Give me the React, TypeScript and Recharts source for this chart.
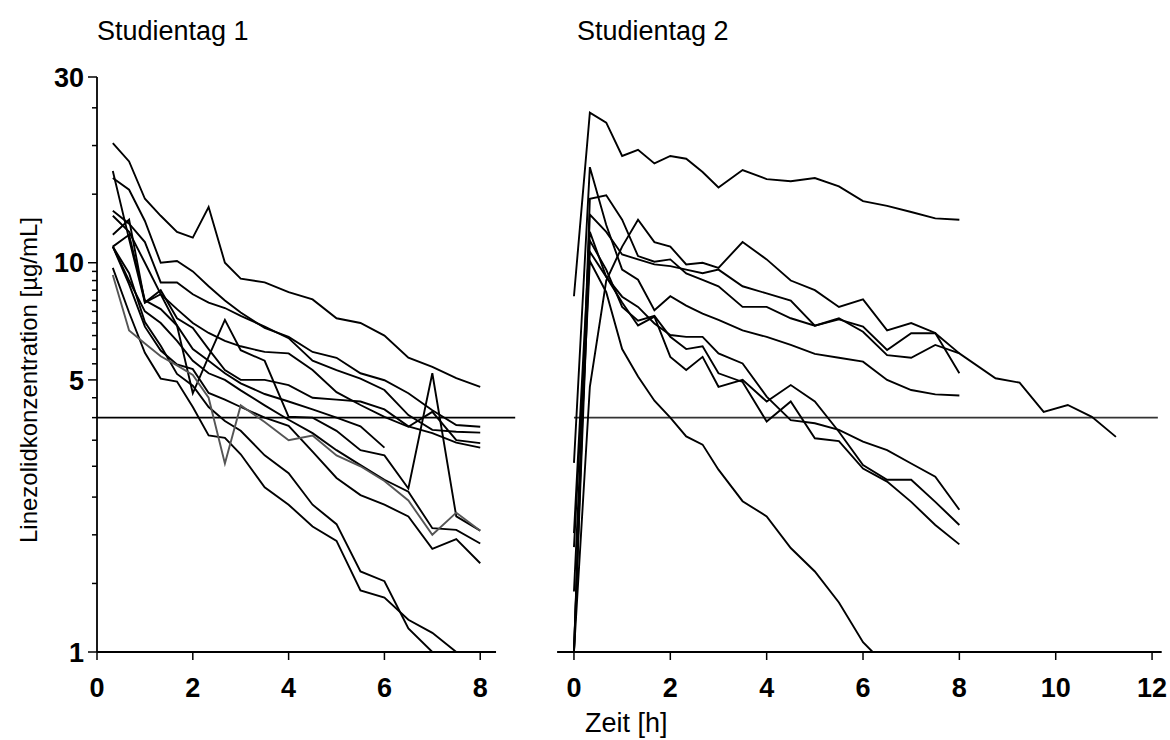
import React from "react";
import { LineChart, Line, XAxis, YAxis, ReferenceLine } from "recharts";

// ---------- Studientag 1 ----------
const timesDay1 = [0.33, 0.67, 1, 1.33, 1.67, 2, 2.33, 2.67, 3, 3.5, 4, 4.5, 5, 5.5, 6, 6.5, 7, 7.5, 8];
const day1A = [20.3, 18.2, 14.6, 13.2, 12.0, 11.6, 13.9, 10.0, 9.1, 8.9, 8.4, 8.05, 7.2, 7.0, 6.5, 5.7, 5.4, 5.05, 4.8];
const day1B = [16.5, 15.4, 12.8, 10.0, 10.1, 9.5, 8.7, 8.0, 7.45, 6.8, 6.45, 5.9, 5.7, 5.2, 4.99, 4.62, 4.18, 3.83, 3.79];
const day1C = [17.2, 11.5, 7.9, 8.5, 7.2, 6.8, 6.0, 5.3, 5.0, 5.0, 4.85, 4.5, 4.45, 4.4, 4.2, 3.8, 3.65, 3.45, 3.35];
const day1D = [13.6, 12.6, 11.3, 8.9, 8.9, 8.3, 7.9, 7.65, 7.3, 6.85, 6.4, 5.6, 5.3, 5.04, 4.71, 4.06, 3.72, 3.68, 3.66];
const day1E = [13.2, 12.0, 10.0, 8.3, 7.6, 7.0, 6.6, 6.3, 6.1, 5.9, 5.85, 5.3, 4.65, 4.31, 4.02, 3.79, 4.14, 3.5, 3.44];
const day1F = [11.8, 12.9, 7.9, 8.3, 6.9, 4.62, 5.74, 7.13, 5.96, 5.6, 4.02, 4.0, 3.7, 3.3, 3.2, 2.63, 5.2, 2.23, 2.05];
const day1H = [11.0, 11.8, 8.0, 7.6, 6.9, 6.0, 5.6, 5.2, 4.9, 4.6, 4.4, 4.2, 4.0, 3.8, 3.35];
const day1Gray = [9.3, 6.7, 6.2, 5.75, 5.45, 5.15, 4.5, 3.05, 4.3, 3.9, 3.5, 3.6, 3.2, 3.0, 2.75, 2.45, 2.0, 2.28, 2.05];
const day1J = [11.0, 9.0, 7.5, 7.0, 6.3, 5.6, 5.2, 5.0, 4.7, 4.3, 3.95, 3.65, 3.3, 3.02, 2.77, 2.58, 2.08, 2.06, 1.9];
const day1K = [11.0, 8.8, 6.85, 5.95, 5.48, 5.33, 4.63, 4.45, 4.26, 4.0, 3.81, 3.27, 2.8, 2.53, 2.39, 2.23, 1.84, 1.95, 1.69];
const day1N = [11.0, 9.4, 7.04, 6.12, 5.18, 4.83, 4.26, 3.92, 3.7, 3.2, 2.88, 2.39, 2.13, 1.61, 1.52, 1.15, 1.0];
const day1M = [9.7, 7.45, 5.87, 5.04, 4.95, 4.26, 3.6, 3.55, 3.22, 2.65, 2.39, 2.1, 1.93, 1.44, 1.38, 1.21, 1.12, 1.0];

// ---------- Studientag 2 ----------
const timesDay2 = [0, 0.33, 0.67, 1, 1.33, 1.67, 2, 2.33, 2.67, 3, 3.5, 4, 4.5, 5, 5.5, 6, 6.5, 7, 7.5, 8];
const timesDay2Long = [...timesDay2, 8.75, 9.25, 9.75, 10.25, 10.75, 11.25];
const timesDay2Fast = [0, 0.33, 0.67, 1, 1.33, 1.67, 2, 2.33, 2.67, 3, 3.5, 4, 4.5, 5, 5.5, 6, 6.2];
const day2R1 = [8.2, 24.3, 22.9, 18.8, 19.5, 18.0, 18.8, 18.5, 17.1, 15.6, 17.3, 16.4, 16.2, 16.5, 15.7, 14.4, 14.0, 13.5, 13.0, 12.9];
const day2R2 = [3.06, 17.6, 12.5, 9.6, 9.04, 7.55, 8.2, 7.76, 7.4, 7.13, 6.7, 6.45, 6.15, 5.83, 5.7, 5.57, 5.0, 4.71, 4.59, 4.56];
const day2R3 = [1.0, 14.6, 14.9, 12.9, 10.4, 10.06, 10.2, 9.39, 9.03, 8.7, 7.7, 7.7, 7.2, 6.89, 7.2, 6.65, 5.79, 5.7, 6.15, 5.85, 5.05, 4.92, 4.14, 4.31, 4.02, 3.57];
const day2R4 = [1.0, 4.8, 9.0, 11.0, 12.9, 11.3, 11.0, 9.9, 10.0, 9.7, 11.3, 10.2, 9.0, 8.5, 7.7, 8.05, 6.7, 7.0, 6.6, 5.2];
const day2R5 = [1.0, 13.3, 12.0, 10.5, 10.2, 9.9, 9.8, 9.6, 9.4, 9.6, 8.7, 8.34, 7.99, 6.89, 7.15, 6.85, 5.97, 6.59, 6.59, 5.85];
const day2LA = [1.0, 11.4, 9.6, 7.7, 7.1, 7.3, 6.45, 6.0, 6.1, 5.2, 4.94, 3.91, 4.4, 3.54, 3.48, 2.96, 2.74, 2.43, 2.12, 1.89];
const day2LB = [2.02, 12.0, 9.2, 7.9, 6.9, 7.27, 5.73, 5.3, 5.73, 4.8, 5.0, 4.4, 4.85, 4.4, 3.68, 3.02, 2.77, 2.77, 2.43, 2.12];
const day2LC = [1.86, 10.67, 9.2, 8.18, 7.7, 6.98, 6.52, 6.45, 6.45, 5.85, 5.51, 4.53, 3.94, 3.87, 3.72, 3.47, 3.3, 3.05, 2.82, 2.32];
const day2Fast = [1.43, 10.1, 8.4, 6.0, 5.1, 4.42, 4.0, 3.58, 3.41, 2.94, 2.44, 2.23, 1.85, 1.61, 1.34, 1.06, 1.0];

// ---------- axes ----------
const yTicks = [1, 1.5, 2, 2.5, 3, 3.5, 4, 4.5, 5, 5.5, 6, 6.5, 7, 7.5, 8, 8.5, 9, 9.5, 10, 15, 20, 25, 30];
const yLabelTicks = [1, 5, 10, 30];
const xTicksDay1 = [0, 2, 4, 6, 8];
const xTicksDay2 = [0, 2, 4, 6, 8, 10, 12];
const threshold = 4;

const FONT = "'Liberation Sans', Arial, sans-serif";

type Series = { times: number[]; values: number[]; color?: string };

const day1Series: Series[] = [
  { times: timesDay1, values: day1A },
  { times: timesDay1, values: day1B },
  { times: timesDay1, values: day1C },
  { times: timesDay1, values: day1D },
  { times: timesDay1, values: day1E },
  { times: timesDay1, values: day1F },
  { times: timesDay1, values: day1H },
  { times: timesDay1, values: day1J },
  { times: timesDay1, values: day1K },
  { times: timesDay1, values: day1N },
  { times: timesDay1, values: day1M },
  { times: timesDay1, values: day1Gray, color: "#555555" },
];

const day2Series: Series[] = [
  { times: timesDay2, values: day2R1 },
  { times: timesDay2, values: day2R2 },
  { times: timesDay2Long, values: day2R3 },
  { times: timesDay2, values: day2R4 },
  { times: timesDay2, values: day2R5 },
  { times: timesDay2, values: day2LA },
  { times: timesDay2, values: day2LB },
  { times: timesDay2, values: day2LC },
  { times: timesDay2Fast, values: day2Fast },
];

const toData = (s: Series) => s.values.map((v, i) => ({ t: s.times[i], c: v }));

const YTick = (props: any) => {
  const { x, y, payload } = props;
  const v = payload.value;
  const major = yLabelTicks.includes(v);
  const len = major ? 9 : 5;
  return (
    <g>
      <line x1={x - len} x2={x} y1={y} y2={y} stroke="#000" strokeWidth={1.5} />
      {major && (
        <text x={x - 13} y={y} dy="0.36em" textAnchor="end" fontSize={27} fontWeight="bold" fontFamily={FONT} fill="#000">
          {v}
        </text>
      )}
    </g>
  );
};

const XTick = (props: any) => {
  const { x, y, payload } = props;
  return (
    <g>
      <line x1={x} x2={x} y1={y} y2={y + 8} stroke="#000" strokeWidth={1.5} />
      <text x={x} y={y + 45} textAnchor="middle" fontSize={27} fontWeight="bold" fontFamily={FONT} fill="#000">
        {payload.value}
      </text>
    </g>
  );
};

const renderLines = (series: Series[], prefix: string) =>
  series.map((s, i) => (
    <Line
      key={prefix + i}
      data={toData(s)}
      dataKey="c"
      type="linear"
      stroke={s.color || "#000"}
      strokeWidth={1.9}
      dot={false}
      activeDot={false}
      isAnimationActive={false}
    />
  ));

export default function App() {
  return (
    <div style={{ position: "absolute", left: 0, top: 0, width: 1170, height: 740, background: "#fff", fontFamily: FONT }}>
      <div style={{ position: "absolute", left: 0, top: 0 }}>
        <LineChart width={560} height={740} margin={{ top: 77, right: 44.8, bottom: 58, left: 37 }}>
          <XAxis
            type="number"
            dataKey="t"
            domain={[0, 8.73]}
            ticks={xTicksDay1}
            allowDataOverflow
            axisLine={false}
            tickLine={false}
            tickSize={0}
            tickMargin={0}
            height={30}
            tick={<XTick />}
            interval={0}
          />
          <YAxis
            type="number"
            scale="log"
            domain={[1, 30]}
            ticks={yTicks}
            allowDataOverflow
            width={60}
            axisLine={{ stroke: "#000", strokeWidth: 1.8 }}
            tickLine={false}
            tickSize={0}
            tickMargin={0}
            tick={<YTick />}
            interval={0}
          />
          <ReferenceLine segment={[{ x: 0, y: 1 }, { x: 8.33, y: 1 }]} stroke="#000" strokeWidth={1.8} ifOverflow="visible" />
          <ReferenceLine y={threshold} stroke="#000" strokeWidth={1.6} ifOverflow="visible" />
          {renderLines(day1Series, "d1-")}
        </LineChart>
      </div>
      <div style={{ position: "absolute", left: 540, top: 0 }}>
        <LineChart width={630} height={740} margin={{ top: 77, right: 8.3, bottom: 58, left: 17.1 }}>
          <XAxis
            type="number"
            dataKey="t"
            domain={[-0.35, 12.2]}
            ticks={xTicksDay2}
            allowDataOverflow
            axisLine={{ stroke: "#000", strokeWidth: 1.8 }}
            tickLine={false}
            tickSize={0}
            tickMargin={0}
            height={30}
            tick={<XTick />}
            interval={0}
          />
          <YAxis type="number" scale="log" domain={[1, 30]} allowDataOverflow hide />
          <ReferenceLine segment={[{ x: 0, y: threshold }, { x: 12.12, y: threshold }]} stroke="#333" strokeWidth={1.6} ifOverflow="visible" />
          {renderLines(day2Series, "d2-")}
        </LineChart>
      </div>
      <svg width={1170} height={740} style={{ position: "absolute", left: 0, top: 0, pointerEvents: "none" }}>
        <text x={97} y={40} fontSize={27} fontFamily={FONT} fill="#000">Studientag 1</text>
        <text x={577} y={40} fontSize={27} fontFamily={FONT} fill="#000">Studientag 2</text>
        <text x={585} y={732} fontSize={27} fontFamily={FONT} fill="#000">Zeit [h]</text>
        <text
          x={0}
          y={0}
          transform="translate(37,380) rotate(-90)"
          textAnchor="middle"
          fontSize={24}
          fontFamily={FONT}
          fill="#000"
        >
          Linezolidkonzentration [µg/mL]
        </text>
      </svg>
    </div>
  );
}
